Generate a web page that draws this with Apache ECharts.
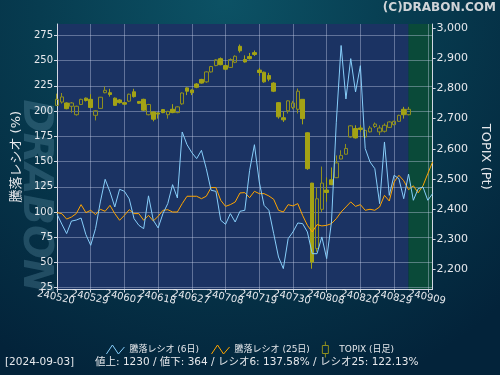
<!DOCTYPE html>
<html>
<head>
<meta charset="utf-8">
<script src="https://cdn.jsdelivr.net/npm/echarts@6/dist/echarts.min.js"></script>
<style>
  html, body { margin: 0; padding: 0; }
  #chart { width: 500px; height: 375px; }
</style>
</head>
<body>
<div id="chart"></div>
<script>
// trading days (yymmdd)
const dates = [
  '240520','240521','240522','240523','240524','240527','240528','240529','240530','240531',
  '240603','240604','240605','240606','240607','240610','240611','240612','240613','240614',
  '240617','240618','240619','240620','240621','240624','240625','240626','240627','240628',
  '240701','240702','240703','240704','240705','240708','240709','240710','240711','240712',
  '240716','240717','240719','240722','240723','240724','240725','240726','240729','240730',
  '240731','240801','240802','240805','240806','240807','240808','240809','240813','240814',
  '240815','240816','240819','240820','240821','240822','240823','240826','240827','240828',
  '240829','240830','240902','240903','240904','240905','240906','240909','240910'
];

// TOPIX daily candles (to 240903)
const topixOpen = [
  2744, 2755, 2752, 2741, 2713, 2747, 2768, 2764, 2711, 2734,
  2786, 2786, 2768, 2762, 2753, 2758, 2789, 2757, 2764, 2713,
  2722, 2719, 2730, 2713, 2731, 2720, 2749, 2802, 2795, 2815,
  2830, 2822, 2855, 2876, 2899, 2876, 2870, 2887, 2940, 2896,
  2906, 2919, 2861, 2854, 2843, 2818, 2753, 2703, 2726, 2737,
  2731, 2764, 2653, 2486, 2269, 2399, 2463, 2497, 2504, 2566,
  2582, 2639, 2667, 2669, 2639, 2656, 2674, 2656, 2658, 2671,
  2680, 2691, 2731, 2713
];
const topixClose = [
  2764, 2772, 2733, 2752, 2741, 2764, 2760, 2737, 2726, 2771,
  2794, 2780, 2744, 2753, 2748, 2781, 2773, 2751, 2728, 2747,
  2698, 2715, 2720, 2724, 2720, 2739, 2785, 2791, 2786, 2804,
  2818, 2855, 2873, 2895, 2879, 2864, 2896, 2907, 2925, 2888,
  2899, 2913, 2853, 2822, 2831, 2791, 2706, 2696, 2759, 2752,
  2791, 2700, 2534, 2224, 2434, 2486, 2455, 2481, 2553, 2578,
  2601, 2676, 2636, 2664, 2661, 2669, 2682, 2669, 2678, 2689,
  2691, 2711, 2713, 2731
];
const topixLow = [
  2742, 2750, 2731, 2720, 2710, 2745, 2757, 2735, 2694, 2732,
  2784, 2773, 2742, 2750, 2745, 2755, 2770, 2749, 2725, 2711,
  2691, 2700, 2718, 2700, 2718, 2718, 2746, 2778, 2778, 2801,
  2816, 2819, 2853, 2874, 2877, 2861, 2868, 2884, 2919, 2886,
  2896, 2908, 2842, 2819, 2824, 2788, 2700, 2689, 2717, 2731,
  2717, 2681, 2530, 2202, 2258, 2390, 2424, 2479, 2503, 2565,
  2581, 2637, 2634, 2656, 2637, 2654, 2669, 2645, 2654, 2669,
  2678, 2689, 2700, 2711
];
const topixHigh = [
  2783, 2785, 2754, 2755, 2743, 2766, 2770, 2781, 2728, 2772,
  2807, 2799, 2770, 2765, 2755, 2783, 2799, 2758, 2766, 2749,
  2724, 2721, 2732, 2726, 2748, 2741, 2787, 2804, 2797, 2818,
  2832, 2857, 2875, 2897, 2903, 2879, 2900, 2910, 2946, 2910,
  2918, 2926, 2868, 2856, 2852, 2821, 2755, 2724, 2761, 2759,
  2800, 2764, 2655, 2487, 2471, 2541, 2505, 2538, 2578, 2595,
  2616, 2678, 2678, 2678, 2663, 2676, 2687, 2678, 2684, 2691,
  2693, 2713, 2739, 2739
];

// advance/decline ratio (%)
const ratio6 = [
  98, 88, 78.6, 91, 92, 94, 77.6, 67, 83.5, 110,
  132.4, 120, 105, 122.5, 120.5, 113, 93.4, 86.8, 83.5, 116,
  91.8, 84.2, 98.4, 108.3, 127.1, 113.9, 179.3, 166.7, 158.8, 152.9,
  161.1, 143, 121.5, 120.5, 91.8, 87.8, 98.4, 90.1, 100.7, 101.7,
  141.3, 166.7, 129.8, 106.6, 101.7, 78.5, 55.4, 43.9, 73.6, 80.2,
  89.1, 88.5, 80.2, 58.7, 58.7, 75.3, 53.8, 90.1, 189, 265,
  212, 252, 219, 245, 163, 149.6, 143, 108.3, 169.4, 116.5,
  136.4, 133, 113.2, 137.58, 111.6, 123.1, 124.8, 111.6, 118.2
];
const ratio25 = [
  99.4, 98.4, 93, 95, 98.4, 107.3, 99.4, 101.7, 97.4, 102.7,
  100.7, 106.6, 98.4, 91.8, 96.7, 102.3, 98.4, 98.4, 91.8, 96.7,
  91.1, 95.7, 101.7, 102.3, 100, 100, 108.3, 115.6, 115.6, 115.6,
  113.2, 115.6, 124.2, 124.2, 111.6, 105.6, 107.3, 109.9, 118.9, 119.2,
  114.2, 120.5, 118.2, 118.2, 115.9, 112.6, 101.7, 100, 107.3, 106,
  108.3, 96.7, 86.8, 80.2, 87.5, 86.2, 86.8, 88.5, 93.4, 100,
  105, 110, 105.6, 107.3, 101.7, 102.7, 101.7, 105, 116.5, 110.9,
  129.7, 136.4, 131, 122.13, 126, 119, 126, 138, 149.6
];

const leftTicks = [25, 50, 75, 100, 125, 150, 175, 200, 225, 250, 275];
const rightTicks = [2200, 2300, 2400, 2500, 2600, 2700, 2800, 2900, 3000];
const dateTicks = dates.filter((d, i) => i % 7 === 0);

const candles = topixOpen.map((o, i) => [o, topixClose[i], topixLow[i], topixHigh[i]]);

const FONT = "'DejaVu Sans', 'Noto Sans CJK JP', sans-serif";
const AXIS = '#d2d7e3';
const GRIDLINE = 'rgba(200,210,235,0.4)';
const TEXT = '#e6e8ec';
const CANDLE = '#a3a315';

const chart = echarts.init(document.getElementById('chart'));
chart.setOption({
  animation: false,
  backgroundColor: new echarts.graphic.RadialGradient(0.45, 0, 1.1, [
    { offset: 0, color: '#0c5265' },
    { offset: 0.45, color: '#073c50' },
    { offset: 1, color: '#03233a' }
  ]),
  textStyle: { fontFamily: FONT },
  grid: { left: 57, right: 66, top: 24, bottom: 85.5, show: false },
  legend: {
    top: 336,
    left: 'center',
    itemWidth: 18,
    itemHeight: 16,
    itemGap: 12,
    textStyle: { color: TEXT, fontSize: 9, fontFamily: FONT },
    data: [
      { name: '騰落レシオ (6日)', icon: 'path://M0,9L6,0L12,9L18,2',
        itemStyle: { color: 'rgba(0,0,0,0)', borderColor: '#87cefa', borderWidth: 1 } },
      { name: '騰落レシオ (25日)', icon: 'path://M0,9L6,0L12,9L18,2',
        itemStyle: { color: 'rgba(0,0,0,0)', borderColor: '#ffa500', borderWidth: 1 } },
      { name: 'TOPIX (日足)', icon: 'path://M4,0L4,4M1,4L7,4L7,12L1,12ZM4,12L4,16',
        itemStyle: { color: 'rgba(0,0,0,0)', borderColor: '#8f8f1e', borderWidth: 1 } }
    ]
  },
  xAxis: {
    type: 'category',
    data: dates,
    boundaryGap: false,
    axisLine: { lineStyle: { color: AXIS, width: 1 } },
    axisTick: { customValues: dateTicks, interval: 0, length: 3, lineStyle: { color: AXIS } },
    axisLabel: {
      customValues: dateTicks, interval: 0, rotate: -12, align: 'center', verticalAlign: 'top',
      margin: 3, hideOverlap: false, color: TEXT, fontSize: 10
    },
    splitLine: { show: true, interval: 6, lineStyle: { color: GRIDLINE, width: 1 } }
  },
  yAxis: [
    {
      type: 'value', position: 'left', min: 23.2, max: 286.3,
      name: '騰落レシオ (%)', nameLocation: 'middle', nameGap: 34,
      nameTextStyle: { color: TEXT, fontSize: 13 },
      axisLine: { show: true, lineStyle: { color: AXIS, width: 1 } },
      axisTick: { show: true, length: 3, customValues: leftTicks, lineStyle: { color: AXIS } },
      axisLabel: { customValues: leftTicks, color: TEXT, fontSize: 10, margin: 4, showMinLabel: true },
      splitLine: { show: true, lineStyle: { color: GRIDLINE, width: 1 } }
    },
    {
      type: 'value', position: 'right', min: 2133, max: 3014,
      name: 'TOPIX (Pt)', nameLocation: 'middle', nameRotate: -90, nameGap: 46,
      nameTextStyle: { color: TEXT, fontSize: 13 },
      axisLine: { show: true, lineStyle: { color: AXIS, width: 1 } },
      axisTick: { show: true, length: 3, customValues: rightTicks, lineStyle: { color: AXIS } },
      axisLabel: {
        customValues: rightTicks, color: TEXT, fontSize: 11, margin: 4,
        formatter: v => v.toLocaleString('en-US')
      },
      splitLine: { show: false }
    }
  ],
  series: [
    {
      name: '騰落レシオ (25日)',
      type: 'line',
      yAxisIndex: 0,
      data: ratio25,
      symbol: 'none',
      lineStyle: { color: '#ffa500', width: 1 },
      itemStyle: { color: '#ffa500' },
      markArea: {
        silent: true,
        z: -1,
        data: [
          [{ xAxis: '240520', itemStyle: { color: '#1b3363' } }, { xAxis: '240903' }],
          [{ xAxis: '240903', itemStyle: { color: '#0a4a39' } }, { xAxis: '240910' }]
        ]
      }
    },
    {
      name: '騰落レシオ (6日)',
      type: 'line',
      yAxisIndex: 0,
      data: ratio6,
      symbol: 'none',
      lineStyle: { color: '#87cefa', width: 1 },
      itemStyle: { color: '#87cefa' }
    },
    {
      name: 'TOPIX (日足)',
      type: 'candlestick',
      yAxisIndex: 1,
      data: candles,
      barWidth: 4,
      itemStyle: {
        color: 'rgba(0,0,0,0)',
        borderColor: '#8f8f1e',
        color0: CANDLE,
        borderColor0: CANDLE,
        borderWidth: 1
      }
    }
  ],
  graphic: [
    {
      type: 'text', z: -10, x: 34, y: 196, rotation: -Math.PI / 2,
      style: {
        text: 'DRABON', fill: 'rgba(115,165,190,0.27)',
        font: "italic 900 40px 'DejaVu Sans'", align: 'center', verticalAlign: 'middle'
      }
    },
    {
      type: 'text', right: 4, top: 2,
      style: { text: '(C)DRABON.COM', fill: '#d0d4d8', font: "bold 12px 'DejaVu Sans'" }
    },
    {
      type: 'text', left: 5, top: 357,
      style: { text: '[2024-09-03]', fill: TEXT, font: "10.5px 'DejaVu Sans', 'Noto Sans CJK JP'" }
    },
    {
      type: 'text', left: 95, top: 357,
      style: {
        text: '値上: 1230 / 値下: 364 / レシオ6: 137.58% / レシオ25: 122.13%',
        fill: TEXT, font: "10.5px 'DejaVu Sans', 'Noto Sans CJK JP'"
      }
    }
  ]
});
</script>
</body>
</html>
